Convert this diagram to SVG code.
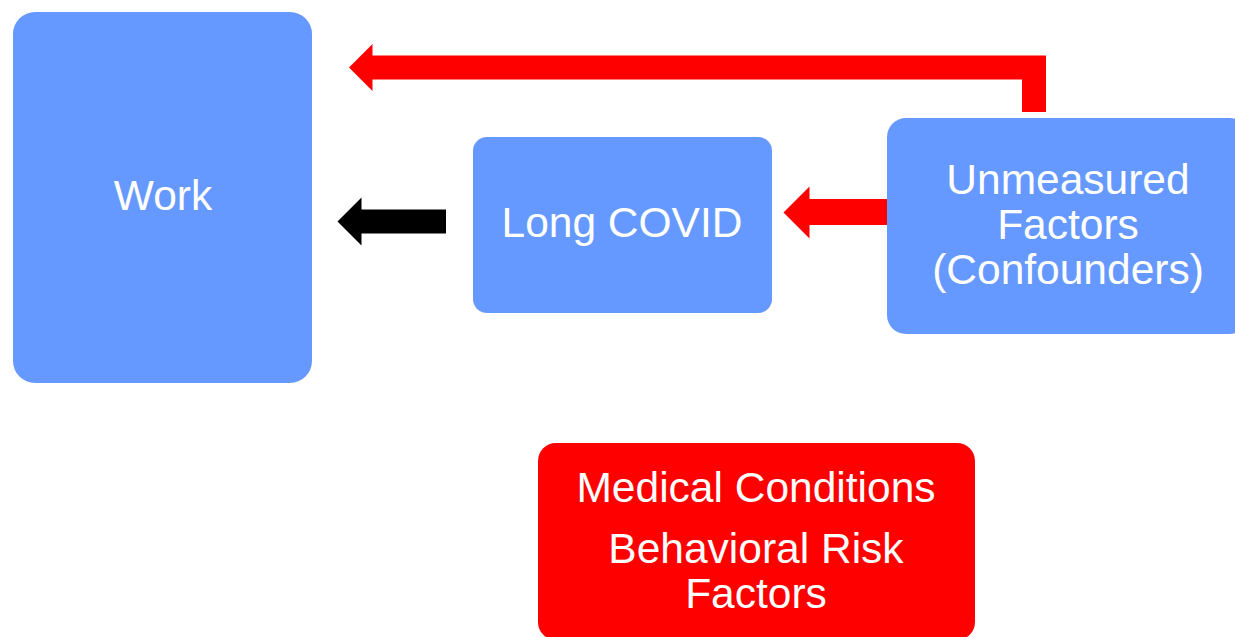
<svg xmlns="http://www.w3.org/2000/svg" width="1235" height="637" viewBox="0 0 1235 637">
<style>
.blue{fill:#6699FF}
.red{fill:#FF0000}
.t{font-family:"Liberation Sans",Arial,sans-serif;font-size:42.5px;fill:#FFFFFF;text-anchor:middle}
</style>
<rect width="1235" height="637" fill="#FFFFFF"/>
<g id="work">
<rect class="blue" x="13" y="12" width="299" height="371" rx="22"/>
<text class="t" x="163" y="210">Work</text>
</g>
<g id="longcovid">
<rect class="blue" x="473" y="137" width="299" height="176" rx="14"/>
<text class="t" x="622" y="237">Long COVID</text>
</g>
<g id="unmeasured">
<rect class="blue" x="887" y="118" width="362" height="216" rx="19"/>
<text class="t" x="1068" y="194">Unmeasured</text>
<text class="t" x="1068" y="239">Factors</text>
<text class="t" x="1068" y="284">(Confounders)</text>
</g>
<g id="medical">
<rect class="red" x="538" y="443" width="437" height="197" rx="18"/>
<text class="t" x="756" y="502">Medical Conditions</text>
<text class="t" x="756" y="563">Behavioral Risk</text>
<text class="t" x="756" y="608">Factors</text>
</g>
<g id="connectors">
<path class="red" d="M349,67.5 L372.5,44 L372.5,55.5 L1046,55.5 L1046,112 L1022,112 L1022,79.5 L372.5,79.5 L372.5,91 Z"/>
<path fill="#000000" d="M337.5,221.5 L361.5,197.5 L361.5,209.5 L446,209.5 L446,233.5 L361.5,233.5 L361.5,245.5 Z"/>
<path class="red" d="M783.5,212.5 L809.5,186.5 L809.5,199 L887,199 L887,225 L809.5,225 L809.5,238.5 Z"/>
</g>
</svg>
